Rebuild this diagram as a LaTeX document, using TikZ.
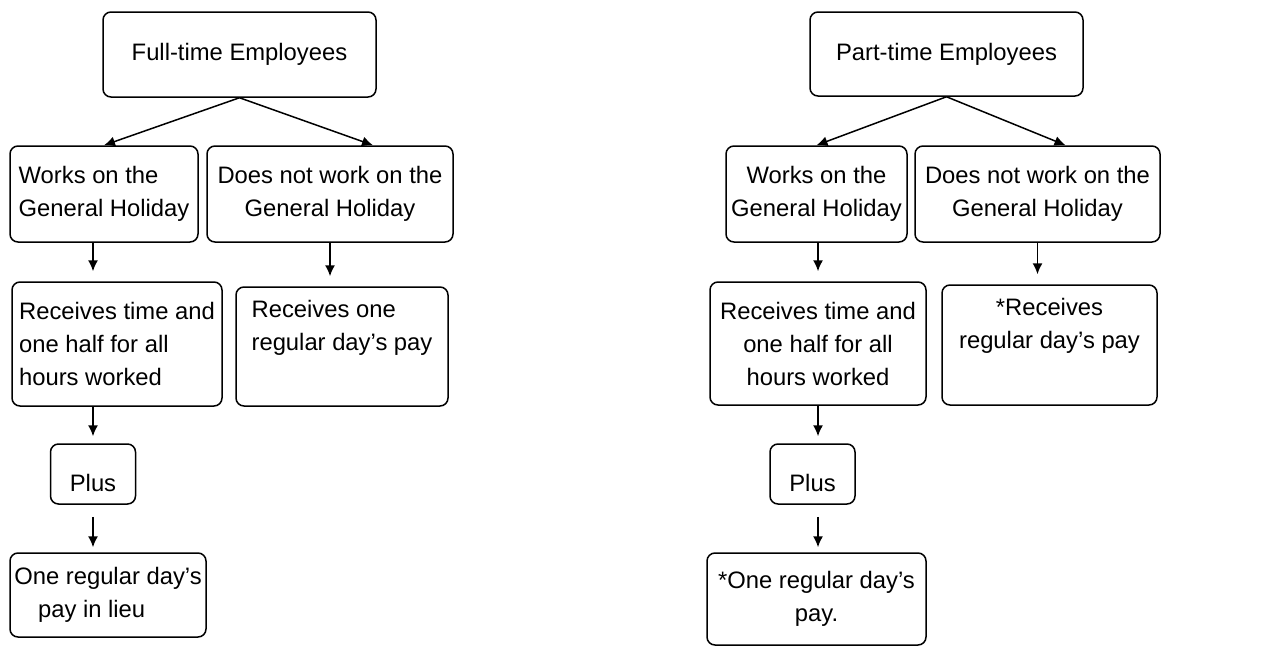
\documentclass[tikz,border=0pt]{standalone}
\usepackage{fontspec}
\setmainfont{Liberation Sans}
\usetikzlibrary{arrows.meta}

\begin{document}
\begin{tikzpicture}[x=0.5pt, y=-0.5pt, >={Latex[length=5.5pt,width=5pt]},
	main/.style = {draw, rounded corners=4pt, line width=0.75pt, inner sep=2pt, font=\fontsize{11.9}{16.5}\selectfont},
	plusbox/.style = {main, minimum width=42.5pt, minimum height=30pt, text height=17pt, text depth=0pt},
	link/.style = {->, line width=0.75pt}]
	\path[fill=white] (0,0) rectangle (1279,648);
	% full-time side
	\node[main, minimum width=136.5pt, minimum height=42.5pt] (1) at (239.5,54.5) {Full-time Employees};
	\node[main, minimum width=94pt, minimum height=48pt, align=left] (2) at (104,194) {Works on the\\General Holiday};
	\node[main, minimum width=123pt, minimum height=48pt, align=center] (3) at (330,194) {Does not work on the\\General Holiday};
	\node[main, minimum width=105pt, minimum height=62pt, align=left] (4) at (117,344) {Receives time and\\one half for all\\hours worked};
	\node[plusbox] (5) at (93,474) {Plus};
	\node[main, minimum width=98pt, minimum height=42pt, align=left] (6) at (108,595) {One regular day's\\\hspace*{1em}pay in lieu};
	\node[main, minimum width=106pt, minimum height=59.5pt, align=left] (7) at (342,346.5) {Receives one\\regular day's pay\\\strut};
	\draw[link] (1.south) -- (2.north);
	\draw[link] (1.south) -- ([xshift=21.5pt]3.north);
	\draw[link, shorten >=5pt] (5 |- 2.south) -- (5 |- 4.north);
	\draw[link, shorten >=3.5pt] (4.south -| 5) -- (5.north);
	\draw[link, shorten <=6pt, shorten >=2.5pt] (5.south) -- (5 |- 6.north);
	\draw[link, shorten >=5pt] (3.south) -- (3.south |- 7.north);
	% part-time side
	\node[main, minimum width=136.5pt, minimum height=42pt] (8) at (946.5,54) {Part-time Employees};
	\node[main, minimum width=90.5pt, minimum height=48pt, align=center] (9) at (816.5,194) {Works on the\\General Holiday};
	\node[main, minimum width=122.5pt, minimum height=48pt, align=center] (10) at (1037.5,194) {Does not work on the\\General Holiday};
	\node[main, minimum width=108pt, minimum height=61.5pt, align=center] (11) at (818,343.5) {Receives time and\\one half for all\\hours worked};
	\node[plusbox] (12) at (812.5,474) {Plus};
	\node[main, minimum width=109.5pt, minimum height=46pt, align=center] (13) at (816.5,599) {*One regular day's\\pay.};
	\node[main, minimum width=107.5pt, minimum height=60pt, align=center] (14) at (1049.5,345) {*Receives\\regular day's pay\\\strut};
	\draw[link] (8.south) -- (9.north);
	\draw[link] (8.south) -- ([xshift=14pt]10.north);
	\draw[link, shorten >=5pt] (11 |- 9.south) -- (11.north);
	\draw[link, shorten >=3.5pt] (11.south) -- (11 |- 12.north);
	\draw[link, shorten <=6pt, shorten >=2.5pt] (11 |- 12.south) -- (11 |- 13.north);
	\draw[link, shorten >=5pt] (10.south) -- (10.south |- 14.north);
	\useasboundingbox (0,0) rectangle (1279,648);
\end{tikzpicture}
\end{document}
